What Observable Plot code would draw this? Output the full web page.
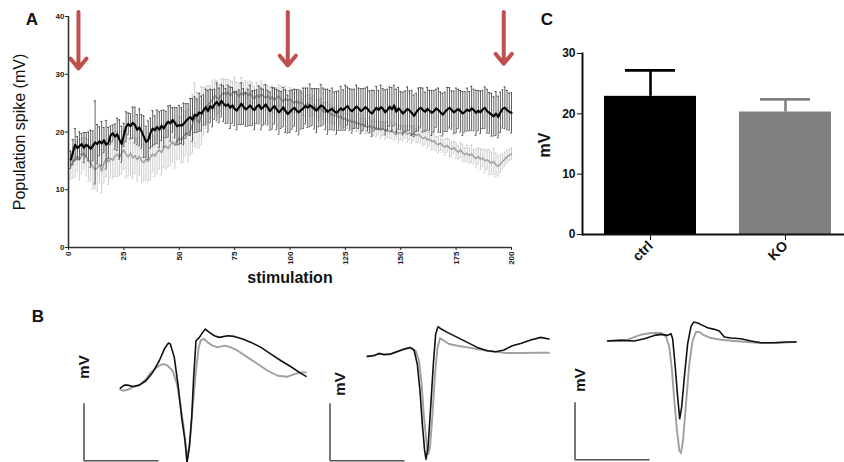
<!DOCTYPE html>
<html><head><meta charset="utf-8">
<script src="https://cdn.jsdelivr.net/npm/d3@7"></script>
<script src="https://cdn.jsdelivr.net/npm/@observablehq/plot@0.6"></script>
<style>
html,body{margin:0;padding:0;background:#fff;overflow:hidden;}
#fig{position:relative;width:844px;height:462px;overflow:hidden;background:#fff;font-family:"Liberation Sans",Arial,sans-serif;color:#111;}
.panel{position:absolute;}
.panel svg{display:block;max-width:none;overflow:visible;}
.lbl{position:absolute;width:0;height:0;}
.lbl span{position:absolute;left:0;top:0;white-space:nowrap;transform:translate(-50%,-50%);line-height:1;}
.lbl.rot span{transform:translate(-50%,-50%) rotate(-90deg);}
</style></head>
<body>
<div id="fig"></div>
<script>
// ---------- Panel A data (stimulation 1..200) ----------
const stimulation = d3.range(1, 201);
const ctrlMean = [
15.2,16.5,17.8,17.2,17.6,17.9,17.3,17.8,17.5,17.1,
17.6,18.2,17.9,18.4,18.0,18.6,17.8,18.1,19.4,19.8,
19.2,19.6,18.7,17.9,19.5,20.9,21.4,21.0,21.6,21.2,
20.4,20.8,20.1,19.2,18.3,18.6,19.8,20.6,20.3,20.9,
20.4,21.1,20.6,21.3,21.8,21.5,22.1,21.6,21.0,21.2,
21.1,21.4,21.9,22.3,22.6,22.1,23.0,22.8,23.4,23.2,
23.8,24.3,23.6,24.5,24.1,24.8,25.2,24.6,25.4,24.9,
24.5,24.8,24.2,24.6,24.0,23.7,24.3,24.9,24.4,23.9,
24.2,24.6,24.1,23.8,24.4,24.7,24.0,24.3,24.8,24.2,
23.6,24.1,24.5,23.9,23.4,23.8,24.3,23.6,23.1,23.5,
23.9,24.2,23.7,23.4,23.8,24.1,24.5,24.2,24.6,24.3,
24.0,23.7,24.2,24.6,24.4,23.9,23.5,23.8,24.0,23.6,
23.3,23.7,24.1,23.8,24.2,24.5,23.9,23.6,24.0,24.4,
24.1,23.6,23.9,24.3,24.0,23.5,23.2,23.7,24.2,23.8,
24.3,24.0,23.4,23.8,24.4,23.9,24.6,23.5,24.1,23.7,
23.2,23.6,24.0,23.7,23.3,22.8,23.4,23.9,24.2,23.8,
23.5,24.0,23.7,23.3,23.6,24.1,23.8,23.4,23.0,23.5,
23.9,24.2,23.8,23.4,23.7,24.0,23.6,23.2,23.5,23.9,
23.6,24.1,23.8,23.3,23.7,23.4,23.9,24.2,23.6,23.3,
23.0,22.7,23.2,22.6,23.4,24.0,24.2,23.8,23.5,23.3];
const ctrlSem = [
1.5,2.2,2.8,2.0,2.4,1.8,2.6,2.1,2.5,3.2,
2.6,7.2,3.4,2.5,3.8,2.2,4.2,2.7,1.6,1.4,
2.2,2.8,3.4,3.1,2.0,2.6,1.9,2.2,2.7,3.1,
2.6,3.2,2.9,3.6,2.7,3.3,2.6,3.1,2.5,2.9,
3.1,2.6,3.2,2.3,2.7,3.1,2.1,2.6,3.2,3.4,
3.1,3.6,3.0,2.6,3.2,3.7,3.1,2.9,3.3,3.0,
2.6,3.1,3.6,2.9,3.2,2.6,3.3,3.0,2.8,3.1,
3.0,3.3,3.6,3.1,2.9,3.3,3.0,3.6,3.1,2.9,
3.2,3.5,3.0,3.4,2.9,3.3,3.6,3.1,3.4,3.0,
3.3,3.6,3.1,3.5,3.8,3.2,3.4,3.7,3.3,3.6,
3.4,3.2,3.6,3.9,3.3,3.5,3.1,3.4,3.7,3.2,
3.5,3.8,3.3,3.6,3.2,3.5,3.9,3.4,3.6,3.3,
3.7,3.4,3.8,3.5,3.9,3.3,3.6,3.8,3.4,3.7,
3.5,3.9,3.6,3.3,3.8,3.6,4.0,3.5,3.7,3.4,
3.8,3.5,3.9,3.6,3.4,3.8,3.5,3.9,3.6,3.3,
3.7,3.5,3.8,3.4,3.9,3.6,3.3,3.7,3.5,3.8,
3.4,3.7,3.5,3.9,3.6,3.3,3.8,3.5,3.7,3.4,
3.8,3.5,3.3,3.7,3.9,3.4,3.6,3.8,3.5,3.7,
3.4,3.8,3.6,3.9,3.5,3.7,3.3,3.6,3.8,3.5,
3.7,3.4,3.8,3.6,3.5,3.3,3.6,3.4,3.2,3.5];
const koMean = [
14.2,14.8,15.4,15.8,15.2,15.9,16.3,15.7,15.1,14.6,
14.0,13.5,13.8,14.4,13.2,14.6,15.3,14.8,15.5,15.1,
15.8,16.2,15.6,16.4,16.9,16.1,15.7,16.3,15.5,15.9,
15.2,15.8,15.0,14.7,15.3,14.9,15.6,16.2,15.8,16.5,
16.9,16.4,17.2,17.6,17.1,17.8,18.3,17.7,18.5,18.9,
18.6,19.3,19.8,19.4,20.2,21.4,23.0,22.1,21.6,22.8,
23.5,24.2,24.8,25.1,25.6,26.3,26.0,25.7,26.4,26.8,
26.5,26.9,26.3,26.7,27.1,26.6,26.2,26.8,26.4,26.9,
26.3,26.7,26.1,25.8,26.4,26.0,26.5,26.2,25.9,26.3,
25.7,26.1,25.5,25.9,26.2,25.6,25.3,25.8,25.4,25.7,
25.3,25.0,25.4,24.9,25.2,24.8,24.5,24.9,24.6,24.3,
24.6,24.0,23.8,24.2,23.6,23.4,23.7,23.2,23.0,22.8,
22.9,22.5,22.7,22.2,22.4,21.9,22.1,21.7,21.9,21.4,
21.6,21.2,21.4,21.0,20.8,21.1,20.7,20.9,20.5,20.7,
20.3,20.6,20.2,20.4,20.0,20.3,19.8,20.1,19.7,19.9,
19.8,20.0,19.6,19.9,19.5,19.8,19.4,19.6,19.2,18.9,
19.1,18.6,18.8,18.3,18.5,18.0,17.8,18.1,17.6,17.4,
17.7,17.2,17.0,17.3,16.8,16.5,16.9,16.4,16.1,16.3,
15.9,16.2,15.7,15.4,15.8,15.3,15.5,15.0,15.2,14.8,
14.6,14.9,14.3,14.1,14.5,14.9,15.3,15.7,16.0,16.2];
const koSem = [
2.4,2.8,3.2,2.6,3.5,3.0,2.7,3.3,3.6,3.1,
3.8,3.4,4.1,3.2,3.7,3.5,3.0,3.9,3.3,3.1,
3.5,3.9,3.2,3.7,3.4,4.0,3.3,3.8,3.5,3.1,
3.7,3.3,3.8,3.2,3.6,3.4,3.9,3.1,3.5,3.7,
3.3,3.8,3.4,4.0,3.2,3.6,3.5,4.1,3.3,3.7,
4.0,4.5,3.8,4.6,4.2,5.0,5.5,4.8,4.4,5.0,
4.2,3.6,3.2,2.9,3.1,2.7,2.9,2.5,2.8,2.4,
2.6,2.2,2.5,2.1,2.4,2.0,2.3,2.6,2.2,2.0,
2.3,2.1,2.4,2.0,2.2,1.9,2.3,2.0,2.2,1.8,
2.1,1.9,2.2,1.8,2.0,2.3,1.9,2.1,1.8,2.0,
1.9,1.7,2.0,1.8,1.6,1.9,1.7,1.5,1.8,1.6,
1.7,1.5,1.8,1.6,1.4,1.7,1.5,1.6,1.4,1.5,
1.3,1.5,1.2,1.4,1.6,1.3,1.5,1.2,1.4,1.3,
1.5,1.2,1.4,1.3,1.1,1.4,1.2,1.5,1.3,1.2,
1.4,1.2,1.5,1.3,1.1,1.4,1.2,1.3,1.5,1.2,
1.3,1.1,1.4,1.2,1.5,1.3,1.2,1.4,1.1,1.3,
1.2,1.4,1.1,1.3,1.5,1.2,1.4,1.3,1.1,1.4,
1.2,1.5,1.3,1.1,1.4,1.2,1.3,1.5,1.2,1.4,
1.3,1.5,1.2,1.6,1.4,1.8,1.5,2.0,1.7,2.2,
1.9,2.3,2.0,1.7,1.5,1.3,1.2,1.1,1.0,1.0];
const xTicksA = [0, 25, 50, 75, 100, 125, 150, 175, 200];
const yTicksA = [0, 10, 20, 30, 40];
const arrowStim = [4.5, 99, 196.5];   // stimulation number marked by red arrows
const arrowTop = 40.8;
const arrowTip = [31.0, 31.5, 31.8];

// ---------- Panel C data ----------
const groups = ["ctrl", "KO"];
const groupMean = [22.9, 20.3];
const groupSem = [4.3, 2.1];
const groupColors = ["#000000", "#808080"];
const yTicksC = [0, 10, 20, 30];

// ---------- Panel B data: [ms, mV] ----------
const scaleBarMs = 1, scaleBarMv = 1;
const b1Ctrl = [[0.484,1.275],[0.538,1.327],[0.582,1.327],[0.649,1.304],[0.738,1.327],[0.827,1.404],[0.916,1.550],[1.004,1.754],[1.071,1.959],[1.124,2.064],[1.151,2.047],[1.204,1.813],[1.258,1.287],[1.302,0.760],[1.347,0.351],[1.373,-0.035],[1.404,0.234],[1.436,0.760],[1.462,1.462],[1.493,2.105],[1.538,2.164],[1.582,2.251],[1.618,2.310],[1.671,2.251],[1.738,2.193],[1.804,2.164],[1.916,2.193],[2.004,2.181],[2.116,2.135],[2.227,2.076],[2.360,1.988],[2.493,1.871],[2.627,1.754],[2.760,1.649],[2.871,1.550],[2.960,1.480]];
const b1KO = [[0.484,1.251],[0.516,1.228],[0.582,1.246],[0.649,1.287],[0.738,1.327],[0.827,1.433],[0.893,1.550],[0.960,1.626],[1.027,1.684],[1.071,1.696],[1.116,1.667],[1.182,1.579],[1.240,1.345],[1.284,0.994],[1.329,0.585],[1.360,0.234],[1.382,0.058],[1.409,0.292],[1.449,0.936],[1.493,1.579],[1.529,1.988],[1.560,2.117],[1.604,2.135],[1.649,2.076],[1.716,2.018],[1.782,1.988],[1.871,2.018],[1.960,1.988],[2.049,1.930],[2.182,1.813],[2.316,1.696],[2.449,1.579],[2.582,1.491],[2.716,1.474],[2.804,1.520],[2.893,1.550],[2.960,1.550]];
const b2Ctrl = [[0.498,1.830],[0.587,1.842],[0.653,1.883],[0.720,1.860],[0.809,1.871],[0.898,1.918],[0.987,1.959],[1.067,1.988],[1.120,1.942],[1.164,1.696],[1.200,1.228],[1.231,0.643],[1.262,0.175],[1.280,0.029],[1.307,0.234],[1.342,0.936],[1.378,1.696],[1.409,2.222],[1.440,2.351],[1.484,2.310],[1.564,2.251],[1.698,2.164],[1.831,2.076],[1.964,1.988],[2.098,1.930],[2.209,1.912],[2.320,1.942],[2.431,2.018],[2.542,2.058],[2.676,2.117],[2.809,2.164],[2.920,2.135]];
const b2KO = [[0.498,1.830],[0.653,1.871],[0.809,1.871],[0.987,1.953],[1.076,1.977],[1.142,1.930],[1.187,1.754],[1.222,1.345],[1.253,0.760],[1.289,0.292],[1.307,0.117],[1.333,0.234],[1.364,0.760],[1.400,1.520],[1.431,1.959],[1.467,2.152],[1.520,2.105],[1.587,2.047],[1.698,2.018],[1.831,1.988],[1.964,1.959],[2.098,1.930],[2.231,1.906],[2.364,1.889],[2.542,1.889],[2.764,1.895],[2.920,1.895]];
const b3Ctrl = [[0.436,2.082],[0.613,2.094],[0.791,2.082],[0.924,2.123],[1.058,2.181],[1.147,2.199],[1.236,2.181],[1.280,2.211],[1.302,2.123],[1.333,1.684],[1.369,1.099],[1.396,0.719],[1.422,0.924],[1.458,1.450],[1.502,2.035],[1.547,2.339],[1.582,2.415],[1.636,2.398],[1.702,2.357],[1.769,2.316],[1.858,2.287],[1.924,2.257],[1.991,2.152],[2.080,2.135],[2.213,2.123],[2.347,2.082],[2.480,2.053],[2.658,2.053],[2.836,2.064],[2.947,2.064]];
const b3KO = [[0.436,2.082],[0.702,2.105],[0.880,2.193],[1.013,2.222],[1.147,2.222],[1.213,2.164],[1.258,1.977],[1.293,1.567],[1.324,1.041],[1.360,0.515],[1.391,0.164],[1.413,0.117],[1.440,0.339],[1.480,0.982],[1.524,1.684],[1.569,2.094],[1.613,2.240],[1.658,2.240],[1.724,2.181],[1.813,2.135],[1.947,2.105],[2.124,2.082],[2.302,2.064],[2.480,2.047],[2.702,2.053],[2.947,2.064]];

// ---------- helpers ----------
const FONT = '"Liberation Sans", Arial, sans-serif';
const fig = document.getElementById("fig");
function place(node, left, top) {
  const d = document.createElement("div");
  d.className = "panel";
  d.style.left = left + "px"; d.style.top = top + "px";
  d.appendChild(node); fig.appendChild(d);
}
function label(text, cx, cy, size, weight, rot) {
  const d = document.createElement("div");
  d.className = "lbl" + (rot ? " rot" : "");
  d.style.left = cx + "px"; d.style.top = cy + "px";
  const s = document.createElement("span");
  s.textContent = text;
  s.style.fontSize = size + "px"; s.style.fontWeight = weight;
  d.appendChild(s); fig.appendChild(d);
}

// ---------- Panel A ----------
const rowsCtrl = stimulation.map((s, i) => ({s, m: ctrlMean[i], e: ctrlSem[i]}));
const rowsKO = stimulation.map((s, i) => ({s, m: koMean[i], e: koSem[i]}));
function errMarks(rows, color, w) {
  return [
    Plot.ruleX(rows, {x: "s", y1: d => d.m - d.e, y2: d => d.m + d.e, stroke: color, strokeWidth: w}),
    Plot.ruleY(rows, {y: d => d.m + d.e, x1: d => d.s - 0.4, x2: d => d.s + 0.4, stroke: color, strokeWidth: w}),
    Plot.ruleY(rows, {y: d => d.m - d.e, x1: d => d.s - 0.4, x2: d => d.s + 0.4, stroke: color, strokeWidth: w})
  ];
}
const plotA = Plot.plot({
  width: 525, height: 290, marginLeft: 68, marginRight: 14, marginTop: 16, marginBottom: 43,
  x: {domain: [0, 200]}, y: {domain: [0, 40]},
  style: {fontFamily: FONT, overflow: "visible", background: "transparent"},
  marks: [
    ...errMarks(rowsKO, "#c2c2c2", 0.8),
    Plot.line(rowsKO, {x: "s", y: "m", stroke: "#a3a3a3", strokeWidth: 1.6}),
    ...errMarks(rowsCtrl, "#2b2b2b", 0.75),
    Plot.line(rowsCtrl, {x: "s", y: "m", stroke: "#000", strokeWidth: 2.1}),
    Plot.arrow(arrowStim, {x1: d => d, x2: d => d, y1: () => arrowTop, y2: (d, i) => arrowTip[i],
      stroke: "#c0504d", strokeWidth: 4, headLength: 4.8, headAngle: 78}),
    Plot.ruleX([0], {stroke: "#333", strokeWidth: 1.6}),
    Plot.ruleY([0], {stroke: "#333", strokeWidth: 1.6}),
    Plot.axisY(yTicksA, {tickSize: 3, tickPadding: 1, fontSize: 8, fontWeight: "bold", color: "#222", label: null}),
    Plot.axisX(xTicksA, {tickSize: 3, tickPadding: 1, tickRotate: -90, fontSize: 8, fontWeight: "bold", color: "#222", label: null})
  ]
});
place(plotA, 0, 0);

// ---------- Panel C ----------
const cRows = groups.map((g, i) => ({g, m: groupMean[i], e: groupSem[i]}));
const plotC = Plot.plot({
  width: 314, height: 290, marginLeft: 52, marginRight: 0, marginTop: 53, marginBottom: 56,
  x: {type: "band", domain: groups, range: [52, 322], paddingInner: 0.32, paddingOuter: 0.154},
  y: {domain: [0, 30]},
  color: {domain: groups, range: groupColors},
  style: {fontFamily: FONT, overflow: "visible", background: "transparent"},
  marks: [
    Plot.ruleX(cRows, {x: "g", y1: "m", y2: d => d.m + d.e, stroke: "g", strokeWidth: 2.6}),
    Plot.tickY(cRows, {x: "g", y: d => d.m + d.e, stroke: "g", strokeWidth: 2.6, insetLeft: 21, insetRight: 21}),
    Plot.barY(cRows, {x: "g", y: "m", fill: "g"}),
    Plot.ruleY([0], {stroke: "#111", strokeWidth: 2}),
    Plot.frame({anchor: "left", stroke: "#111", strokeWidth: 2}),
    Plot.axisY(yTicksC, {tickSize: 5, tickPadding: 2, fontSize: 12, fontWeight: "bold", color: "#111", label: null}),
    Plot.axisX({tickSize: 6, tickPadding: 3, tickRotate: -45, fontSize: 14, fontWeight: "bold", color: "#111", label: null})
  ]
});
place(plotC, 530, 0);

// ---------- Panel B ----------
function tracePlot(ctrl, ko) {
  return Plot.plot({
    width: 240, height: 154, marginLeft: 0, marginRight: 0, marginTop: 0, marginBottom: 0,
    x: {domain: [-0.1, 3.1], axis: null}, y: {domain: [-0.1, 2.6], axis: null},
    style: {overflow: "visible", background: "transparent"},
    marks: [
      Plot.ruleX([0], {y1: () => 0, y2: () => scaleBarMv, stroke: "#555", strokeWidth: 1.6}),
      Plot.ruleY([0], {x1: () => 0, x2: () => scaleBarMs, stroke: "#555", strokeWidth: 1.6}),
      Plot.line(ko, {stroke: "#a0a0a0", strokeWidth: 1.9}),
      Plot.line(ctrl, {stroke: "#111", strokeWidth: 1.6})
    ]
  });
}
place(tracePlot(b1Ctrl, b1KO), 75.5, 311.8);
place(tracePlot(b2Ctrl, b2KO), 321.8, 311.8);
place(tracePlot(b3Ctrl, b3KO), 566.5, 311.1);

// ---------- text ----------
label("A", 32, 19, 17, "bold", false);
label("C", 547, 19, 17, "bold", false);
label("B", 38, 316, 17, "bold", false);
label("Population spike (mV)", 19.5, 131.5, 16, "normal", true);
label("stimulation", 290, 277.5, 16, "bold", false);
label("mV", 545, 144.5, 16, "bold", true);
label("mV", 82.5, 367, 15, "bold", true);
label("mV", 339, 383.5, 15, "bold", true);
label("mV", 578.5, 380, 15, "bold", true);
</script>
</body></html>
